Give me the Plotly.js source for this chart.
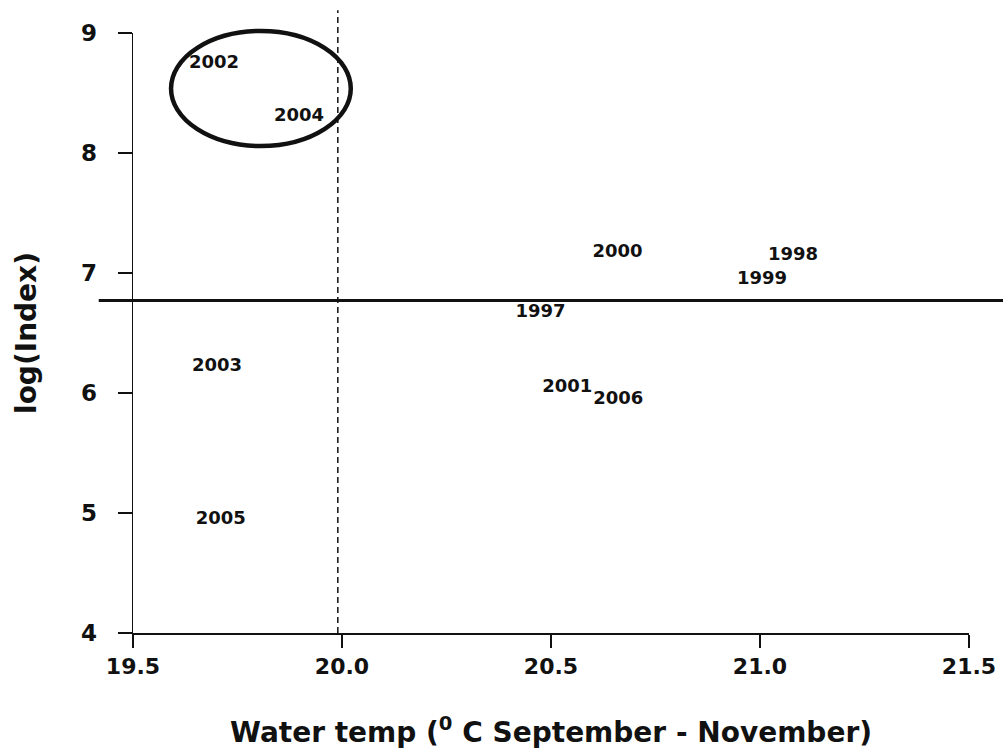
<!DOCTYPE html>
<html>
<head>
<meta charset="utf-8">
<script src="https://cdn.plot.ly/plotly-3.0.1.min.js"></script>
<style>html,body{margin:0;padding:0;background:#fff;}#chart{width:1003px;height:749px;}</style>
</head>
<body>
<div id="chart"></div>
<script>
// Data: year labels plotted at (water temp, log index)
const years = ['1997','1998','1999','2000','2001','2002','2003','2004','2005','2006'];
const waterTemp = [20.475, 21.079, 21.005, 20.659, 20.539, 19.694, 19.701, 19.897, 19.710, 20.661];
const logIndex  = [6.675, 7.142, 6.942, 7.167, 6.050, 8.742, 6.225, 8.308, 4.942, 5.950];

// Axis ticks and ranges
const xRange = [19.5, 21.5];
const yRange = [4, 9];
const xTicks = [19.5, 20.0, 20.5, 21.0, 21.5];
const xTickLabels = ['19.5', '20.0', '20.5', '21.0', '21.5'];
const yTicks = [4, 5, 6, 7, 8, 9];

// Reference lines and highlight ellipse
const thresholdLogIndex = [6.77];
const thresholdTemp = [19.99];
const ellipseX = [19.591, 20.021];
const ellipseY = [8.058, 9.017];

const FONT = 'DejaVu Sans, Liberation Sans, Arial, sans-serif';
const INK = '#111111';

// data -> paper conversion so the ellipse is not clipped by the plot area
const px = v => (v - xRange[0]) / (xRange[1] - xRange[0]);
const py = v => (v - yRange[0]) / (yRange[1] - yRange[0]);

const trace = {
  type: 'scatter',
  mode: 'text',
  x: waterTemp,
  y: logIndex,
  text: years,
  textposition: 'middle center',
  textfont: {family: FONT, size: 18, color: INK, weight: 'bold'},
  hoverinfo: 'x+y+text',
  showlegend: false
};

const layout = {
  width: 1003,
  height: 749,
  margin: {l: 133, r: 34, t: 33, b: 116},
  paper_bgcolor: '#ffffff',
  plot_bgcolor: '#ffffff',
  font: {family: FONT, color: INK},
  showlegend: false,
  xaxis: {
    range: xRange,
    tickvals: xTicks,
    ticktext: xTickLabels,
    ticks: 'outside',
    ticklen: 13,
    tickwidth: 1.5,
    tickcolor: INK,
    showline: true,
    linecolor: INK,
    linewidth: 1.5,
    showgrid: false,
    zeroline: false,
    ticklabelstandoff: 0,
    tickfont: {family: FONT, size: 22, color: INK, weight: 'bold'},
    title: {text: 'Water temp (<sup>0</sup> C September - November)', font: {family: FONT, size: 28, color: INK, weight: 'bold'}, standoff: 45},
    automargin: false,
    fixedrange: true
  },
  yaxis: {
    range: yRange,
    tickvals: yTicks,
    ticks: 'outside',
    ticklen: 14,
    tickwidth: 1.5,
    tickcolor: INK,
    showline: true,
    linecolor: INK,
    linewidth: 1.5,
    showgrid: false,
    zeroline: false,
    ticklabelstandoff: 16,
    tickfont: {family: FONT, size: 23, color: INK, weight: 'bold'},
    title: {text: 'log(Index)', font: {family: FONT, size: 28, color: INK, weight: 'bold'}, standoff: 36},
    automargin: false,
    fixedrange: true
  },
  shapes: [
    {type: 'line', xref: 'paper', yref: 'y', x0: -0.041, x1: 1.05, y0: thresholdLogIndex[0], y1: thresholdLogIndex[0],
     line: {color: INK, width: 3}},
    {type: 'line', xref: 'x', yref: 'paper', x0: thresholdTemp[0], x1: thresholdTemp[0], y0: 0, y1: 1.038,
     line: {color: INK, width: 1.5, dash: '6px,4px'}},
    {type: 'circle', xref: 'paper', yref: 'paper',
     x0: px(ellipseX[0]), x1: px(ellipseX[1]), y0: py(ellipseY[0]), y1: py(ellipseY[1]),
     line: {color: INK, width: 4.5}}
  ]
};

Plotly.newPlot('chart', [trace], layout, {displayModeBar: false, staticPlot: true});
</script>
</body>
</html>
